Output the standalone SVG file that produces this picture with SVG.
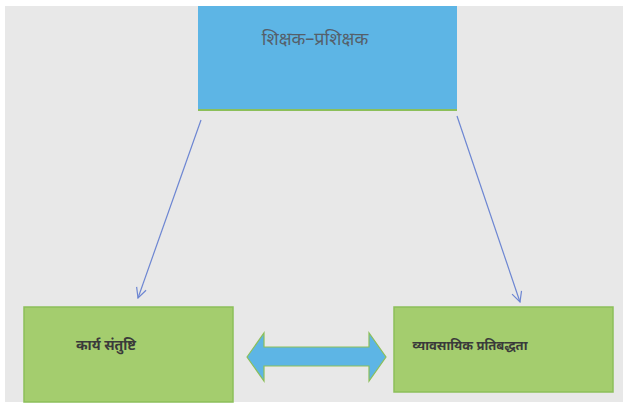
<svg xmlns="http://www.w3.org/2000/svg" width="628" height="406" viewBox="0 0 628 406">
<defs>
<style>
.bg{fill:#e8e8e8}
.blue{fill:#5db5e5}
.green{fill:#a4cd6e;stroke:#8cbf5a;stroke-width:1.5}
.t{font-family:"Noto Sans Devanagari","Noto Sans","DejaVu Sans",sans-serif;text-anchor:middle;dominant-baseline:central}
.conn{stroke:#6d86d2;stroke-width:1.2;fill:none}
</style>
<marker id="ah" viewBox="0 0 12 12" refX="11" refY="6" markerWidth="12" markerHeight="12" markerUnits="userSpaceOnUse" orient="auto">
<path d="M1,1 L11,6 L1,11" fill="none" stroke="#6d86d2" stroke-width="1.2"/>
</marker>
</defs>
<rect x="0" y="0" width="628" height="406" fill="#ffffff"/>
<rect class="bg" x="5" y="6" width="618" height="396"/>
<g id="node-trainer">
<rect class="blue" x="198" y="6" width="259" height="104"/>
<line x1="198" y1="110" x2="457" y2="110" stroke="#8cbf5a" stroke-width="2"/>
<text class="t" x="315" y="40" font-size="18" fill="#555f6a">शिक्षक–प्रशिक्षक</text>
</g>
<g id="node-satisfaction">
<rect class="green" x="24" y="307" width="209" height="95"/>
<text class="t" x="106" y="346" font-size="14" font-weight="bold" fill="#3a3a3a">कार्य संतुष्टि</text>
</g>
<g id="node-commitment">
<rect class="green" x="394" y="307" width="219" height="85"/>
<text class="t" x="470" y="346" font-size="13" font-weight="bold" fill="#3a3a3a">व्यावसायिक प्रतिबद्धता</text>
</g>
<g id="connectors">
<line class="conn" x1="201" y1="120" x2="138" y2="298" marker-end="url(#ah)"/>
<line class="conn" x1="457" y1="116" x2="520" y2="302" marker-end="url(#ah)"/>
<path d="M247,357 L264,333 L264,347 L369,347 L369,333 L386,357 L369,381 L369,366 L264,366 L264,381 Z" fill="#5db5e5" stroke="#8cbf5a" stroke-width="1.2"/>
</g>
</svg>
